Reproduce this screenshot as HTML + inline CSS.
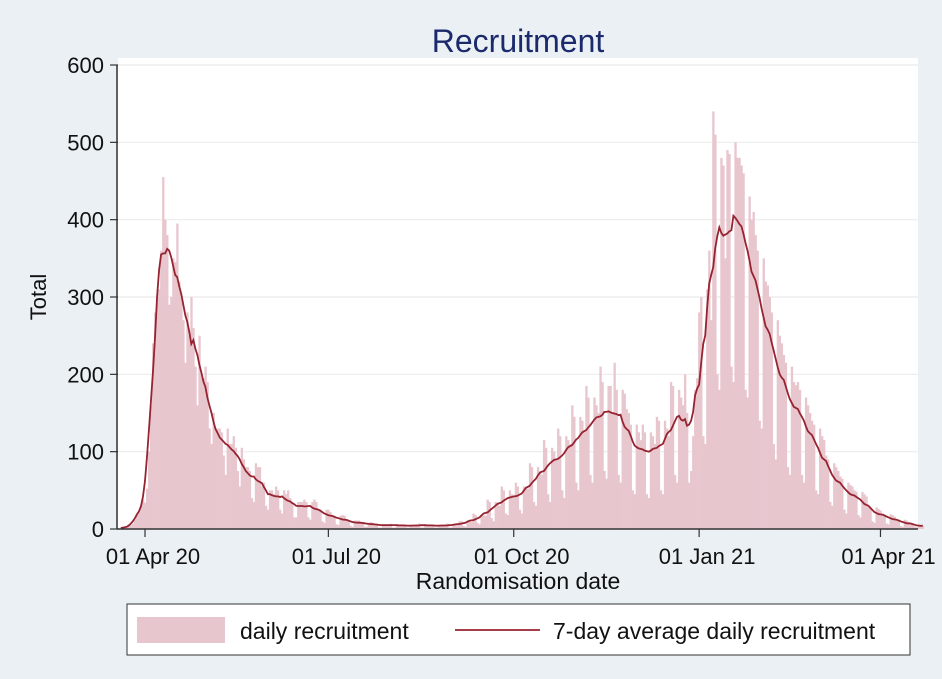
<!DOCTYPE html>
<html><head><meta charset="utf-8"><style>
body{margin:0;background:#eaf0f3;}
svg{display:block;font-family:"Liberation Sans",Arial,sans-serif;}
</style></head><body>
<svg id="chart" width="942" height="679" viewBox="0 0 942 679" xmlns="http://www.w3.org/2000/svg">
<rect x="0" y="0" width="942" height="679" fill="#eaf0f3"/>
<rect x="118" y="58" width="800" height="471" fill="#ffffff"/>
<text x="518" y="52" text-anchor="middle" font-size="32" fill="#1a2a6c">Recruitment</text>
<g id="grid"></g>
<g id="bars"></g>
<path id="avgline" fill="none" stroke="#962330" stroke-width="1.8"/>
<g id="axes"></g>
<text x="518" y="589" text-anchor="middle" font-size="23" fill="#111">Randomisation date</text>
<text x="46" y="297" text-anchor="middle" font-size="22" fill="#111" transform="rotate(-90 46 297)">Total</text>
<g>
<rect x="127" y="604" width="783" height="51" fill="#ffffff" stroke="#333" stroke-width="1"/>
<rect x="137" y="617" width="88" height="26" fill="#e8c6ce"/>
<text x="240" y="639" font-size="23" fill="#111">daily recruitment</text>
<line x1="455" y1="630" x2="540" y2="630" stroke="#962330" stroke-width="1.8"/>
<text x="553" y="639" font-size="23" fill="#111">7-day average daily recruitment</text>
</g>
</svg>
<script>
const startDay = -12; // days relative to 01 Apr 2020
const daily = [
0,1,1,3,4,5,7,
12,18,22,30,38,34,52,
100,160,240,280,300,310,360,
455,400,380,290,300,350,345,
395,320,300,270,215,280,250,
300,260,210,160,250,200,195,
210,190,130,110,150,130,130,
130,125,95,70,130,110,110,
120,105,75,55,105,90,80,
80,75,40,35,85,80,80,
55,60,30,25,50,50,45,
55,50,25,20,50,45,50,
40,35,15,15,35,35,35,
38,35,15,12,35,38,35,
25,25,10,8,25,25,22,
18,17,6,5,17,18,17,
12,11,4,3,11,11,11,
9,9,3,3,8,9,8,
6,7,2,2,6,6,6,
6,7,2,2,6,6,6,
5,6,2,2,5,5,5,
6,7,2,2,6,6,6,
5,6,2,2,5,5,5,
6,7,2,2,6,6,6,
10,10,4,3,10,10,9,
20,18,8,6,18,18,17,
38,35,14,10,35,34,30,
55,50,20,18,50,45,42,
60,55,25,20,55,55,52,
85,80,35,30,80,75,70,
115,105,45,35,105,100,90,
130,120,50,40,120,115,110,
160,145,60,50,145,140,125,
185,170,70,60,170,160,150,
210,190,75,65,185,185,150,
215,180,70,60,180,175,155,
150,135,50,45,135,125,115,
135,125,45,40,125,120,110,
145,140,50,45,140,130,120,
190,185,70,60,180,170,160,
200,150,60,75,120,180,195,
280,300,120,110,310,360,270,
540,510,200,180,480,470,350,
490,485,210,190,500,480,480,
470,460,180,170,430,400,410,
380,360,140,130,350,320,315,
300,280,110,90,270,250,240,
225,215,80,70,210,190,186,
190,180,70,60,170,160,150,
140,135,50,45,130,120,115,
95,90,35,30,85,80,75,
68,65,25,20,60,57,55,
50,48,18,15,48,45,42,
30,28,10,8,28,26,24,
20,19,7,6,19,18,16,
12,12,4,3,12,11,9,
7,6,3,2,6,5,4
];
const yTicks = [0,100,200,300,400,500,600];
const xTickDays = [0,91,183,275,365];
const xTickLabels = ["01 Apr 20","01 Jul 20","01 Oct 20","01 Jan 21","01 Apr 21"];

const NS="http://www.w3.org/2000/svg";
const X0=145, PXD=2.015, Y0=529, PXU=464/600;
function xs(d){return X0+PXD*d;}
function ys(v){return Y0-PXU*v;}
function mk(tag,attrs,parent){const e=document.createElementNS(NS,tag);for(const k in attrs)e.setAttribute(k,attrs[k]);parent.appendChild(e);return e;}

const grid=document.getElementById('grid');
const axes=document.getElementById('axes');
yTicks.forEach(t=>{
  if(t>0){const g=mk('line',{x1:118,x2:918,y1:ys(t),y2:ys(t),stroke:'#ebebeb','stroke-width':1.2},grid);
  
  }
  const tk=mk('line',{x1:110,x2:118,y1:ys(t),y2:ys(t),stroke:'#333','stroke-width':1.2},axes);
  
  
  const lb=mk('text',{x:104,y:ys(t)+8,'text-anchor':'end','font-size':22,fill:'#111'},axes);
  lb.textContent=t;
  
  
});
const bars=document.getElementById('bars');
daily.forEach((v,i)=>{
  const d=startDay+i;
  const r=mk('rect',{x:xs(d)-PXD/2,y:ys(v),width:PXD+0.3,height:Y0-ys(v),fill:'#e8c6ce'},bars);
  
  
});
let pts=[];
for(let i=0;i<daily.length;i++){
  let s=0,n=0;
  for(let j=i-3;j<=i+3;j++){if(j>=0&&j<daily.length){s+=daily[j];n++;}}
  pts.push(xs(startDay+i).toFixed(1)+','+ys(s/n).toFixed(1));
}
document.getElementById('avgline').setAttribute('d','M'+pts.join('L'));
mk('line',{x1:117,x2:117,y1:65,y2:529,stroke:'#333','stroke-width':1.5},axes);
mk('line',{x1:117,x2:918,y1:529,y2:529,stroke:'#333','stroke-width':1.5},axes);
xTickDays.forEach((d,i)=>{
  const tk=mk('line',{x1:xs(d),x2:xs(d),y1:529,y2:537,stroke:'#333','stroke-width':1.2},axes);
  
  
  const lb=mk('text',{x:xs(d)+8,y:564,'text-anchor':'middle','font-size':22,fill:'#111'},axes);
  lb.textContent=xTickLabels[i];
  
  
});
</script>
</body></html>
